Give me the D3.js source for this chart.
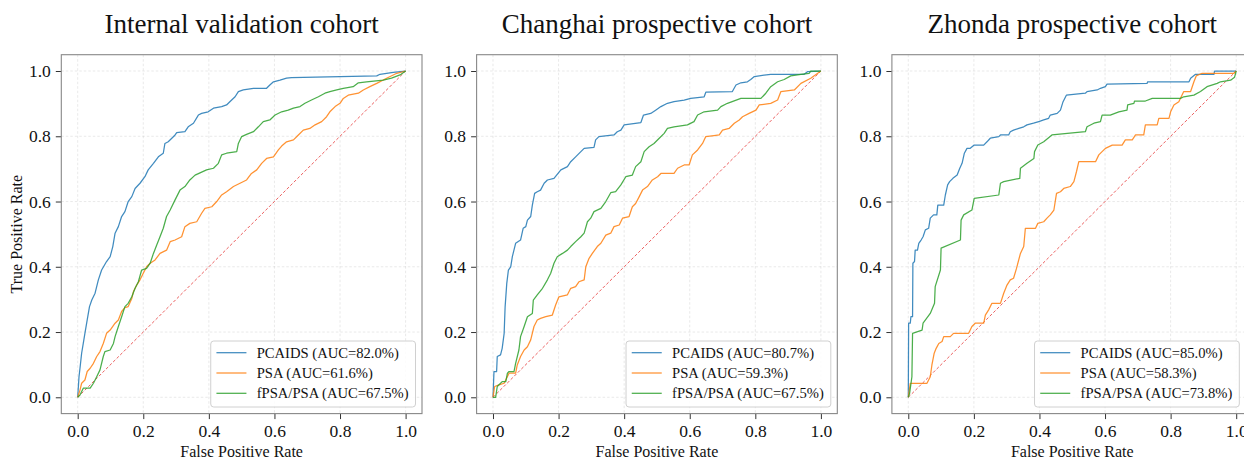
<!DOCTYPE html>
<html>
<head>
<meta charset="utf-8">
<script src="https://cdn.jsdelivr.net/npm/d3@7.9.0/dist/d3.min.js"></script>
<style>
  html, body { margin: 0; padding: 0; background: #fff; }
  svg { display: block; }
  svg text { font-family: "Liberation Serif", "Times New Roman", serif; }
</style>
</head>
<body>
<svg id="chart" width="1244" height="459"></svg>
<script>
// Panel titles, model names and AUCs
const titles = ['Internal validation cohort', 'Changhai prospective cohort', 'Zhonda prospective cohort'];
const modelNames = ['PCAIDS', 'PSA', 'fPSA/PSA'];
const aucInternal = [82.0, 61.6, 67.5];
const aucChanghai = [80.7, 59.3, 67.5];
const aucZhonda = [85.0, 58.3, 73.8];
const tickValues = [0, 0.2, 0.4, 0.6, 0.8, 1.0];
const colors = ['#1f77b4', '#ff7f0e', '#2ca02c'];

// ROC points [FPR, TPR]
const internalPcaids = [[0,0],[0.004,0.063],[0.007,0.089],[0.012,0.135],[0.017,0.165],[0.022,0.196],[0.029,0.237],[0.036,0.278],[0.043,0.298],[0.053,0.319],[0.063,0.360],[0.073,0.390],[0.088,0.416],[0.099,0.431],[0.107,0.462],[0.114,0.503],[0.124,0.523],[0.134,0.554],[0.144,0.569],[0.154,0.600],[0.165,0.615],[0.175,0.640],[0.190,0.656],[0.205,0.676],[0.215,0.697],[0.231,0.717],[0.246,0.737],[0.261,0.748],[0.266,0.778],[0.276,0.783],[0.287,0.794],[0.297,0.804],[0.302,0.811],[0.327,0.814],[0.337,0.829],[0.353,0.840],[0.368,0.865],[0.378,0.870],[0.398,0.875],[0.414,0.886],[0.439,0.891],[0.454,0.896],[0.464,0.906],[0.480,0.921],[0.490,0.937],[0.505,0.942],[0.536,0.947],[0.576,0.947],[0.586,0.957],[0.597,0.967],[0.617,0.972],[0.637,0.978],[0.652,0.980],[0.912,0.985],[0.922,0.990],[0.962,0.996],[1,1]];
const internalPsa = [[0,0],[0.007,0.022],[0.012,0.043],[0.022,0.053],[0.029,0.079],[0.038,0.089],[0.048,0.104],[0.058,0.125],[0.068,0.140],[0.078,0.165],[0.088,0.196],[0.099,0.206],[0.114,0.227],[0.124,0.237],[0.134,0.263],[0.144,0.275],[0.154,0.278],[0.165,0.303],[0.170,0.324],[0.180,0.344],[0.190,0.360],[0.200,0.380],[0.210,0.400],[0.221,0.411],[0.236,0.421],[0.251,0.441],[0.271,0.451],[0.282,0.477],[0.297,0.482],[0.317,0.492],[0.327,0.523],[0.342,0.533],[0.363,0.538],[0.378,0.564],[0.388,0.579],[0.409,0.584],[0.424,0.600],[0.439,0.620],[0.454,0.630],[0.475,0.646],[0.495,0.656],[0.515,0.666],[0.530,0.686],[0.546,0.697],[0.561,0.717],[0.576,0.732],[0.597,0.737],[0.612,0.758],[0.622,0.770],[0.637,0.783],[0.658,0.789],[0.673,0.804],[0.688,0.819],[0.708,0.824],[0.724,0.835],[0.744,0.845],[0.759,0.860],[0.769,0.875],[0.785,0.891],[0.800,0.901],[0.810,0.916],[0.825,0.926],[0.856,0.932],[0.871,0.942],[0.891,0.952],[0.912,0.962],[0.942,0.978],[0.973,0.993],[1,1]];
const internalFpsa = [[0,0],[0.007,0.007],[0.017,0.028],[0.038,0.028],[0.048,0.043],[0.058,0.063],[0.068,0.084],[0.078,0.125],[0.083,0.140],[0.099,0.145],[0.109,0.165],[0.114,0.186],[0.124,0.217],[0.134,0.247],[0.144,0.278],[0.154,0.288],[0.165,0.308],[0.175,0.334],[0.185,0.354],[0.195,0.390],[0.210,0.395],[0.221,0.411],[0.231,0.441],[0.241,0.467],[0.251,0.492],[0.261,0.518],[0.271,0.554],[0.282,0.574],[0.297,0.605],[0.312,0.635],[0.327,0.646],[0.342,0.666],[0.358,0.681],[0.373,0.688],[0.393,0.697],[0.414,0.702],[0.429,0.717],[0.439,0.743],[0.454,0.748],[0.485,0.753],[0.490,0.778],[0.500,0.799],[0.515,0.806],[0.536,0.814],[0.551,0.829],[0.566,0.845],[0.586,0.850],[0.602,0.865],[0.622,0.875],[0.642,0.880],[0.658,0.886],[0.678,0.891],[0.693,0.901],[0.713,0.911],[0.734,0.921],[0.754,0.932],[0.769,0.937],[0.790,0.942],[0.810,0.947],[0.840,0.952],[0.856,0.964],[0.881,0.967],[0.932,0.972],[0.957,0.978],[0.983,0.988],[1,1]];

const changhaiPcaids = [[0,0],[0.003,0.079],[0.011,0.079],[0.013,0.125],[0.023,0.130],[0.028,0.150],[0.034,0.196],[0.037,0.278],[0.042,0.349],[0.047,0.390],[0.054,0.400],[0.059,0.431],[0.069,0.472],[0.084,0.482],[0.092,0.518],[0.100,0.523],[0.105,0.543],[0.115,0.554],[0.120,0.589],[0.127,0.625],[0.135,0.630],[0.145,0.635],[0.156,0.656],[0.166,0.666],[0.186,0.671],[0.207,0.697],[0.227,0.707],[0.237,0.722],[0.252,0.737],[0.268,0.753],[0.278,0.763],[0.308,0.766],[0.313,0.789],[0.323,0.799],[0.369,0.804],[0.379,0.814],[0.390,0.819],[0.400,0.835],[0.451,0.842],[0.459,0.865],[0.481,0.870],[0.496,0.880],[0.512,0.891],[0.532,0.901],[0.552,0.906],[0.583,0.911],[0.603,0.916],[0.644,0.921],[0.649,0.935],[0.730,0.937],[0.741,0.957],[0.756,0.964],[0.776,0.967],[0.786,0.974],[0.797,0.983],[0.847,0.990],[0.949,0.990],[0.959,0.998],[1,1]];
const changhaiPsa = [[0,0],[0.005,0.033],[0.018,0.038],[0.034,0.043],[0.049,0.074],[0.069,0.074],[0.074,0.099],[0.084,0.125],[0.095,0.145],[0.105,0.155],[0.115,0.176],[0.125,0.217],[0.135,0.237],[0.145,0.242],[0.161,0.247],[0.181,0.252],[0.191,0.283],[0.201,0.308],[0.227,0.314],[0.237,0.334],[0.252,0.339],[0.262,0.354],[0.278,0.360],[0.283,0.400],[0.293,0.426],[0.303,0.441],[0.318,0.462],[0.329,0.472],[0.344,0.497],[0.359,0.503],[0.369,0.523],[0.385,0.528],[0.395,0.549],[0.415,0.554],[0.425,0.584],[0.435,0.594],[0.446,0.615],[0.456,0.635],[0.471,0.646],[0.486,0.666],[0.502,0.676],[0.512,0.686],[0.552,0.686],[0.563,0.702],[0.583,0.712],[0.598,0.712],[0.608,0.743],[0.624,0.758],[0.639,0.778],[0.649,0.799],[0.674,0.802],[0.690,0.804],[0.700,0.819],[0.720,0.824],[0.736,0.840],[0.751,0.850],[0.761,0.860],[0.781,0.870],[0.802,0.880],[0.812,0.896],[0.847,0.901],[0.868,0.911],[0.878,0.937],[0.919,0.942],[0.939,0.962],[0.969,0.978],[1,1]];
const changhaiFpsa = [[0,0],[0.008,0],[0.013,0.033],[0.028,0.048],[0.039,0.048],[0.044,0.074],[0.049,0.079],[0.064,0.079],[0.069,0.104],[0.079,0.145],[0.084,0.186],[0.095,0.217],[0.105,0.247],[0.120,0.257],[0.123,0.298],[0.135,0.314],[0.151,0.334],[0.166,0.360],[0.176,0.380],[0.186,0.411],[0.196,0.431],[0.212,0.441],[0.227,0.451],[0.237,0.462],[0.252,0.477],[0.268,0.492],[0.278,0.503],[0.288,0.538],[0.298,0.549],[0.308,0.569],[0.329,0.579],[0.344,0.600],[0.359,0.627],[0.374,0.630],[0.390,0.651],[0.405,0.676],[0.425,0.681],[0.435,0.707],[0.451,0.722],[0.461,0.753],[0.476,0.768],[0.491,0.778],[0.507,0.794],[0.522,0.809],[0.532,0.824],[0.552,0.829],[0.593,0.835],[0.613,0.845],[0.624,0.865],[0.644,0.875],[0.685,0.880],[0.695,0.891],[0.715,0.901],[0.756,0.916],[0.817,0.916],[0.832,0.932],[0.847,0.952],[0.868,0.967],[0.888,0.974],[0.908,0.985],[0.939,0.990],[0.964,0.993],[0.969,1],[1,1]];

const zhondaPcaids = [[0,0],[0.001,0.227],[0.006,0.227],[0.008,0.247],[0.013,0.247],[0.014,0.411],[0.019,0.416],[0.021,0.451],[0.028,0.451],[0.032,0.472],[0.039,0.482],[0.045,0.492],[0.052,0.513],[0.062,0.518],[0.067,0.549],[0.077,0.559],[0.087,0.559],[0.090,0.589],[0.108,0.589],[0.113,0.620],[0.120,0.651],[0.126,0.661],[0.136,0.671],[0.149,0.681],[0.157,0.702],[0.164,0.717],[0.171,0.748],[0.179,0.763],[0.189,0.763],[0.201,0.773],[0.230,0.773],[0.240,0.783],[0.250,0.794],[0.276,0.799],[0.281,0.804],[0.306,0.804],[0.311,0.814],[0.321,0.819],[0.337,0.824],[0.352,0.829],[0.362,0.835],[0.382,0.840],[0.398,0.845],[0.413,0.850],[0.428,0.855],[0.433,0.865],[0.454,0.870],[0.464,0.880],[0.472,0.906],[0.482,0.926],[0.540,0.932],[0.545,0.937],[0.576,0.942],[0.586,0.947],[0.601,0.952],[0.606,0.960],[0.728,0.962],[0.730,0.967],[0.856,0.967],[0.861,0.978],[0.876,0.990],[0.932,0.990],[0.934,1],[1,1]];
const zhondaPsa = [[0,0],[0.006,0.043],[0.057,0.043],[0.067,0.063],[0.072,0.099],[0.079,0.135],[0.085,0.150],[0.093,0.165],[0.103,0.171],[0.108,0.186],[0.128,0.186],[0.138,0.196],[0.184,0.196],[0.194,0.217],[0.204,0.227],[0.230,0.227],[0.235,0.252],[0.245,0.268],[0.255,0.288],[0.281,0.288],[0.291,0.319],[0.301,0.344],[0.311,0.360],[0.321,0.365],[0.330,0.395],[0.342,0.441],[0.352,0.462],[0.357,0.518],[0.388,0.518],[0.395,0.533],[0.413,0.538],[0.423,0.549],[0.433,0.559],[0.444,0.574],[0.452,0.625],[0.464,0.630],[0.474,0.640],[0.494,0.646],[0.505,0.661],[0.513,0.692],[0.520,0.722],[0.571,0.722],[0.581,0.743],[0.591,0.753],[0.601,0.763],[0.622,0.773],[0.652,0.773],[0.662,0.789],[0.683,0.789],[0.693,0.804],[0.718,0.804],[0.723,0.835],[0.759,0.835],[0.764,0.855],[0.795,0.855],[0.800,0.875],[0.810,0.896],[0.825,0.906],[0.840,0.937],[0.861,0.937],[0.871,0.967],[0.878,0.985],[0.896,0.993],[0.993,0.993],[1,1]];
const zhondaFpsa = [[0,0],[0.004,0.012],[0.011,0.063],[0.013,0.196],[0.042,0.206],[0.045,0.227],[0.067,0.257],[0.080,0.288],[0.082,0.339],[0.098,0.390],[0.100,0.457],[0.159,0.482],[0.161,0.543],[0.169,0.559],[0.194,0.574],[0.201,0.610],[0.276,0.620],[0.281,0.656],[0.291,0.661],[0.340,0.671],[0.342,0.702],[0.362,0.717],[0.383,0.732],[0.385,0.753],[0.395,0.773],[0.413,0.783],[0.438,0.804],[0.540,0.814],[0.545,0.829],[0.566,0.840],[0.586,0.845],[0.591,0.865],[0.616,0.865],[0.642,0.875],[0.667,0.880],[0.669,0.896],[0.688,0.901],[0.690,0.908],[0.723,0.908],[0.744,0.916],[0.830,0.916],[0.840,0.921],[0.871,0.926],[0.891,0.937],[0.911,0.952],[0.942,0.962],[0.952,0.967],[0.983,0.972],[0.995,0.981],[1,1]];

const panels = [
  { title: titles[0], auc: aucInternal, curves: [internalPcaids, internalPsa, internalFpsa] },
  { title: titles[1], auc: aucChanghai, curves: [changhaiPcaids, changhaiPsa, changhaiFpsa] },
  { title: titles[2], auc: aucZhonda, curves: [zhondaPcaids, zhondaPsa, zhondaFpsa] }
];

// Layout
const W = 1244;
const firstLeft = 61.3;
const panelStep = 415.3;
const panelW = 360.7;
const plotTop = 54.7;
const plotBottom = 413.6;
const serif = '"Liberation Serif", "Times New Roman", serif';
const fmt = d3.format('.1f');

const svg = d3.select('#chart');

panels.forEach((p, i) => {
  const left = firstLeft + i * panelStep;
  const right = left + panelW;
  const x = d3.scaleLinear().domain([-0.05, 1.05]).range([left, right]);
  const y = d3.scaleLinear().domain([-0.05, 1.05]).range([plotBottom, plotTop]);
  const g = svg.append('g');

  // grid
  g.append('g').selectAll('line').data(tickValues).join('line')
    .attr('x1', d => x(d)).attr('x2', d => x(d))
    .attr('y1', plotTop).attr('y2', plotBottom)
    .attr('stroke', '#b0b0b0').attr('stroke-opacity', 0.35)
    .attr('stroke-width', 0.8).attr('stroke-dasharray', '2.5,2');
  g.append('g').selectAll('line').data(tickValues).join('line')
    .attr('x1', left).attr('x2', right)
    .attr('y1', d => y(d)).attr('y2', d => y(d))
    .attr('stroke', '#b0b0b0').attr('stroke-opacity', 0.35)
    .attr('stroke-width', 0.8).attr('stroke-dasharray', '2.5,2');

  // chance diagonal
  g.append('line')
    .attr('x1', x(0)).attr('y1', y(0)).attr('x2', x(1)).attr('y2', y(1))
    .attr('stroke', '#ec6060')
    .attr('stroke-width', 1).attr('stroke-dasharray', '3,2');

  // ROC curves
  const line = d3.line().x(d => x(d[0])).y(d => y(d[1]));
  p.curves.forEach((c, k) => {
    g.append('path').datum(c)
      .attr('d', line)
      .attr('fill', 'none')
      .attr('stroke', colors[k])
      .attr('stroke-opacity', 0.85)
      .attr('stroke-width', 1.25)
      .attr('stroke-linejoin', 'round');
  });

  // axes
  const xAxis = g.append('g')
    .attr('transform', `translate(0,${plotBottom})`)
    .call(d3.axisBottom(x).tickValues(tickValues).tickFormat(fmt).tickSize(5.5).tickPadding(5.4));
  const yAxis = g.append('g')
    .attr('transform', `translate(${left},0)`)
    .call(d3.axisLeft(y).tickValues(tickValues).tickFormat(fmt).tickSize(5.5).tickPadding(5));
  [xAxis, yAxis].forEach(a => {
    a.select('.domain').remove();
    a.attr('font-family', serif).attr('font-size', 17.5);
    a.selectAll('line').attr('stroke', '#333').attr('stroke-width', 1);
    a.selectAll('text').attr('font-family', serif).attr('font-size', '17.5px').attr('fill', '#111');
  });

  // frame
  g.append('rect')
    .attr('x', left).attr('y', plotTop)
    .attr('width', panelW).attr('height', plotBottom - plotTop)
    .attr('fill', 'none').attr('stroke', '#888').attr('stroke-width', 1.1);

  // title
  g.append('text')
    .attr('x', (left + right) / 2).attr('y', 33)
    .attr('text-anchor', 'middle')
    .attr('font-family', serif)
    .attr('font-size', '27px').attr('fill', '#111')
    .text(p.title);

  // x label
  g.append('text')
    .attr('x', (left + right) / 2).attr('y', 457)
    .attr('text-anchor', 'middle')
    .attr('font-family', serif)
    .attr('font-size', '16px').attr('fill', '#111')
    .text('False Positive Rate');

  if (i === 0) {
    g.append('text')
      .attr('transform', `translate(21.5,${(plotTop + plotBottom) / 2}) rotate(-90)`)
      .attr('text-anchor', 'middle')
      .attr('font-family', serif)
      .attr('font-size', '16px').attr('fill', '#111')
      .text('True Positive Rate');
  }

  // legend
  const lg = g.append('g');
  const box = lg.append('rect');
  const labels = modelNames.map((m, k) => `${m} (AUC=${fmt(p.auc[k])}%)`);
  const texts = lg.selectAll('text').data(labels).join('text')
    .attr('font-family', serif)
    .attr('font-size', '14.6px').attr('fill', '#111')
    .attr('dy', '0.35em')
    .text(d => d);
  let maxLen = 0;
  texts.each(function () { maxLen = Math.max(maxLen, this.getComputedTextLength()); });
  const lw = 46 + maxLen + 7;
  const lh = 66;
  const lRight = Math.min(right - 6.5, W - 4.7);
  const lx = lRight - lw;
  const ly = plotBottom - 6.6 - lh;
  box.attr('x', lx).attr('y', ly).attr('width', lw).attr('height', lh)
    .attr('rx', 3).attr('fill', '#fff').attr('fill-opacity', 0.85)
    .attr('stroke', '#d0d0d0').attr('stroke-width', 1);
  texts.attr('x', lx + 46).attr('y', (d, k) => ly + 11.7 + k * 20.3);
  lg.selectAll('line').data(labels).join('line')
    .attr('x1', lx + 5.7).attr('x2', lx + 35.7)
    .attr('y1', (d, k) => ly + 11.7 + k * 20.3)
    .attr('y2', (d, k) => ly + 11.7 + k * 20.3)
    .attr('stroke', (d, k) => colors[k]).attr('stroke-opacity', 0.85)
    .attr('stroke-width', 1.25);
});
</script>
</body>
</html>
